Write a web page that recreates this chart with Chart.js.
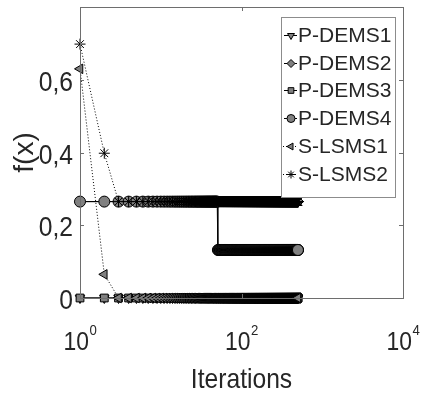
<!DOCTYPE html>
<html>
<head>
<meta charset="utf-8">
<script src="https://cdn.jsdelivr.net/npm/chart.js@4/dist/chart.umd.min.js"></script>
<style>
  html, body { margin: 0; background: #fff; }
  canvas { display: block; }
</style>
</head>
<body>
<canvas id="chart" width="422" height="398"></canvas>
<script>
// --- data ---
const seriesNames = ['P-DEMS1', 'P-DEMS2', 'P-DEMS3', 'P-DEMS4', 'S-LSMS1', 'S-LSMS2'];
const iterations = Array.from({ length: 500 }, (_, i) => i + 1);
// each series as runs of [value, number of iterations]
const pdems1Runs = [[0, 500]];
const pdems2Runs = [[0.265, 500]];
const pdems3Runs = [[0, 500]];
const pdems4Runs = [[0.265, 50], [0.132, 450]];
const slsms1Runs = [[0.63, 1], [0.065, 1], [0, 498]];
const slsms2Runs = [[0.698, 1], [0.398, 1], [0.265, 498]];
const xTicks = [1, 100, 10000];
const yTicks = [0, 0.2, 0.4, 0.6];

const FONT = '"Liberation Sans", Arial, sans-serif';
const textColor = '#262626';
const markerGray = '#808080';
const boxColor = '#6e6e6e';
const squeeze = 0.88;   // the original text is a bit narrow

function expand(runs) {
  const ys = [];
  runs.forEach(([v, n]) => { for (let k = 0; k < n; k++) ys.push(v); });
  return iterations.map((it, i) => ({ x: it, y: ys[i] }));
}

const styles = [
  { runs: pdems1Runs, pointStyle: 'triangle', rot: 180, dash: [] },
  { runs: pdems2Runs, pointStyle: 'rectRot', rot: 0, dash: [] },
  { runs: pdems3Runs, pointStyle: 'rect', rot: 0, dash: [] },
  { runs: pdems4Runs, pointStyle: 'circle', rot: 0, dash: [] },
  { runs: slsms1Runs, pointStyle: 'triangle', rot: -90, dash: [1, 2] },
  { runs: slsms2Runs, pointStyle: 'star', rot: 0, dash: [1, 2] }
];

const datasets = styles.map((s, i) => ({
  label: seriesNames[i],
  data: expand(s.runs),
  borderColor: '#000',
  borderWidth: 1,
  borderDash: s.dash,
  backgroundColor: markerGray,
  pointStyle: s.pointStyle,
  pointRotation: s.rot,
  pointRadius: 5.5,
  pointBackgroundColor: markerGray,
  pointBorderColor: '#000',
  pointBorderWidth: 1,
  tension: 0,
  clip: false,
  order: seriesNames.length - 1 - i   // later series drawn on top, like MATLAB
}));

// text drawn a little condensed
function txt(ctx, s, x, y, size, align) {
  ctx.save();
  ctx.font = size + 'px ' + FONT;
  ctx.textAlign = align;
  ctx.textBaseline = 'alphabetic';
  ctx.translate(x, y);
  ctx.scale(squeeze, 1);
  ctx.fillText(s, 0, 0);
  ctx.restore();
}
function txtWidth(ctx, s, size) {
  ctx.font = size + 'px ' + FONT;
  return ctx.measureText(s).width * squeeze;
}

// box, inward ticks, tick labels, titles and the legend inside the plot
const decorPlugin = {
  id: 'decor',
  afterDraw(chart) {
    const { ctx, chartArea: a } = chart;
    const xs = chart.scales.x, ys = chart.scales.y;
    ctx.save();
    ctx.strokeStyle = boxColor;
    ctx.lineWidth = 1;
    ctx.strokeRect(a.left + 0.5, a.top + 0.5, a.right - a.left, a.bottom - a.top);
    const tl = 4;
    ctx.beginPath();
    xTicks.forEach(t => {
      const px = Math.round(xs.getPixelForValue(t)) + 0.5;
      ctx.moveTo(px, a.bottom); ctx.lineTo(px, a.bottom - tl);
      ctx.moveTo(px, a.top); ctx.lineTo(px, a.top + tl);
    });
    yTicks.forEach(t => {
      const py = Math.round(ys.getPixelForValue(t)) + 0.5;
      ctx.moveTo(a.left, py); ctx.lineTo(a.left + tl, py);
      ctx.moveTo(a.right, py); ctx.lineTo(a.right - tl, py);
    });
    ctx.stroke();

    ctx.fillStyle = textColor;
    // y tick labels with decimal comma
    yTicks.forEach(t => {
      const py = ys.getPixelForValue(t);
      const s = t === 0 ? '0' : t.toFixed(1).replace('.', ',');
      txt(ctx, s, a.left - 7, py + 11, 28, 'right');
    });
    // x tick labels 10^n
    xTicks.forEach(t => {
      const px = xs.getPixelForValue(t);
      const exp = String(Math.round(Math.log10(t)));
      const w1 = txtWidth(ctx, '10', 26), w2 = txtWidth(ctx, exp, 15);
      const x0 = px - (w1 + w2) / 2;
      txt(ctx, '10', x0, a.bottom + 52, 26, 'left');
      txt(ctx, exp, x0 + w1 + 0.5, a.bottom + 37, 15, 'left');
    });
    // axis titles
    txt(ctx, 'Iterations', (a.left + a.right) / 2, a.bottom + 90, 28, 'center');
    ctx.save();
    ctx.translate(33, (a.top + a.bottom) / 2);
    ctx.rotate(-Math.PI / 2);
    ctx.font = '28px ' + FONT;
    ctx.textAlign = 'center';
    ctx.textBaseline = 'alphabetic';
    ctx.fillText('f(x)', 0, 0);
    ctx.restore();

    // legend
    const lx = a.right - 122, ly = a.top + 10, lw = 114, lh = 180;
    ctx.fillStyle = '#fff';
    ctx.fillRect(lx, ly, lw, lh);
    ctx.strokeStyle = '#8c8c8c';
    ctx.strokeRect(lx + 0.5, ly + 0.5, lw, lh);
    ctx.font = '21px ' + FONT;
    ctx.textAlign = 'left';
    ctx.textBaseline = 'middle';
    chart.data.datasets.forEach((ds, i) => {
      const cy = Math.round(ly + 18 + i * 27.7) + 0.5;
      const mx = lx + 10;
      ctx.strokeStyle = '#000';
      ctx.lineWidth = 1;
      ctx.setLineDash(ds.borderDash);
      ctx.beginPath();
      ctx.moveTo(ds.borderDash.length ? lx + 2 : lx + 3, cy);
      ctx.lineTo(lx + 16, cy);
      ctx.stroke();
      ctx.setLineDash([]);
      ctx.fillStyle = markerGray;
      ctx.strokeStyle = '#000';
      Chart.helpers.drawPoint(ctx, {
        pointStyle: ds.pointStyle, rotation: ds.pointRotation,
        radius: 4, borderWidth: 1
      }, mx, cy);
      ctx.fillStyle = textColor;
      ctx.fillText(ds.label, lx + 17, cy + 1);
    });
    ctx.restore();
  }
};

new Chart(document.getElementById('chart'), {
  type: 'line',
  data: { datasets },
  options: {
    responsive: false,
    animation: false,
    layout: { padding: { top: 7, right: 19, left: 0, bottom: 0 } },
    plugins: { legend: { display: false }, tooltip: { enabled: false } },
    scales: {
      x: {
        type: 'logarithmic',
        min: 1, max: 10000,
        afterBuildTicks: s => { s.ticks = xTicks.map(v => ({ value: v })); },
        afterFit: s => { s.height = 100; },
        ticks: { display: false },
        grid: { display: false },
        border: { display: false }
      },
      y: {
        min: 0, max: 0.8,
        afterBuildTicks: s => { s.ticks = yTicks.map(v => ({ value: v })); },
        afterFit: s => { s.width = 80; },
        ticks: { display: false },
        grid: { display: false },
        border: { display: false }
      }
    }
  },
  plugins: [decorPlugin]
});
</script>
</body>
</html>
